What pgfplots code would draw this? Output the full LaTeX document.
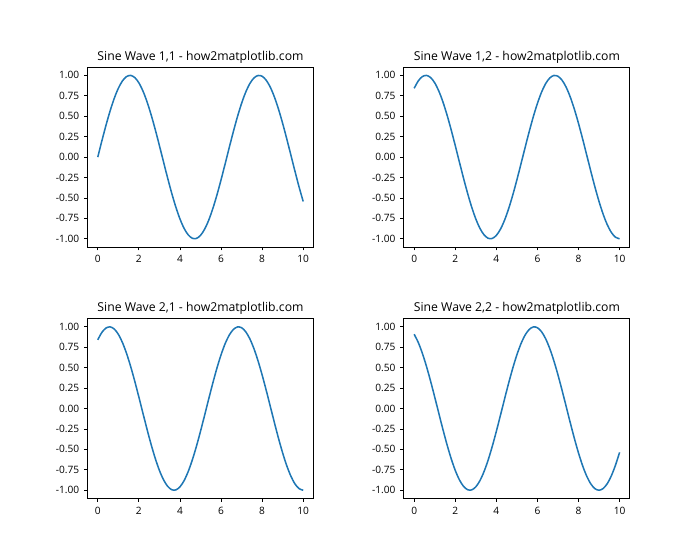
\documentclass[border=0pt]{standalone}
\usepackage{pgfplots}
\pgfplotsset{compat=1.18}
\usepackage{pgfplotstable}
\usepackage{fontspec}
\setmainfont{Open Sans}
\definecolor{mplblue}{HTML}{1F77B4}
\pgfplotstableread{
x s0 s1 s2
0.0 0.0000 0.8415 0.9093
0.2 0.1987 0.9320 0.8085
0.4 0.3894 0.9854 0.6755
0.6 0.5646 0.9996 0.5155
0.8 0.7174 0.9738 0.3350
1.0 0.8415 0.9093 0.1411
1.2 0.9320 0.8085 -0.0584
1.4 0.9854 0.6755 -0.2555
1.6 0.9996 0.5155 -0.4425
1.8 0.9738 0.3350 -0.6119
2.0 0.9093 0.1411 -0.7568
2.2 0.8085 -0.0584 -0.8716
2.4 0.6755 -0.2555 -0.9516
2.6 0.5155 -0.4425 -0.9937
2.8 0.3350 -0.6119 -0.9962
3.0 0.1411 -0.7568 -0.9589
3.2 -0.0584 -0.8716 -0.8835
3.4 -0.2555 -0.9516 -0.7728
3.6 -0.4425 -0.9937 -0.6313
3.8 -0.6119 -0.9962 -0.4646
4.0 -0.7568 -0.9589 -0.2794
4.2 -0.8716 -0.8835 -0.0831
4.4 -0.9516 -0.7728 0.1165
4.6 -0.9937 -0.6313 0.3115
4.8 -0.9962 -0.4646 0.4941
5.0 -0.9589 -0.2794 0.6570
5.2 -0.8835 -0.0831 0.7937
5.4 -0.7728 0.1165 0.8987
5.6 -0.6313 0.3115 0.9679
5.8 -0.4646 0.4941 0.9985
6.0 -0.2794 0.6570 0.9894
6.2 -0.0831 0.7937 0.9407
6.4 0.1165 0.8987 0.8546
6.6 0.3115 0.9679 0.7344
6.8 0.4941 0.9985 0.5849
7.0 0.6570 0.9894 0.4121
7.2 0.7937 0.9407 0.2229
7.4 0.8987 0.8546 0.0248
7.6 0.9679 0.7344 -0.1743
7.8 0.9985 0.5849 -0.3665
8.0 0.9894 0.4121 -0.5440
8.2 0.9407 0.2229 -0.6999
8.4 0.8546 0.0248 -0.8278
8.6 0.7344 -0.1743 -0.9228
8.8 0.5849 -0.3665 -0.9809
9.0 0.4121 -0.5440 -1.0000
9.2 0.2229 -0.6999 -0.9792
9.4 0.0248 -0.8278 -0.9193
9.6 -0.1743 -0.9228 -0.8228
9.8 -0.3665 -0.9809 -0.6935
10.0 -0.5440 -1.0000 -0.5366
}\sinetable
\pgfplotsset{
  mystyle/.style={
    scale only axis, width=162.7pt, height=129.4pt,
    xmin=-0.5, xmax=10.5, ymin=-1.1, ymax=1.1,
    xtick={0,2,4,6,8,10},
    ytick={-1,-0.75,-0.5,-0.25,0,0.25,0.5,0.75,1},
    yticklabel style={/pgf/number format/.cd, fixed, fixed zerofill, precision=2},
    /pgf/number format/assume math mode=true,
    ticklabel style={font=\fontsize{7.3}{8}\selectfont},
    title style={font=\fontsize{8.8}{10}\selectfont, yshift=-6.5pt},
    tick align=outside, tick pos=left,
    major tick length=2.5pt,
    axis line style={line width=0.6pt},
    every tick/.style={black, line width=0.6pt},
    anchor=south west,
  },
  myline/.style={mplblue, line width=1.1pt, smooth, no marks, tension=0.5},
}
\begin{document}
\begin{tikzpicture}[x=1pt,y=1pt]
\useasboundingbox (0,0) rectangle (504,403.2);
\begin{axis}[mystyle, at={(63pt,225.4pt)}, title={Sine Wave 1,1 - how2matplotlib.com}]
\addplot[myline] table[x=x,y=s0] {\sinetable};
\end{axis}
\begin{axis}[mystyle, at={(290.8pt,225.4pt)}, title={Sine Wave 1,2 - how2matplotlib.com}]
\addplot[myline] table[x=x,y=s1] {\sinetable};
\end{axis}
\begin{axis}[mystyle, at={(63pt,44.35pt)}, title={Sine Wave 2,1 - how2matplotlib.com}]
\addplot[myline] table[x=x,y=s1] {\sinetable};
\end{axis}
\begin{axis}[mystyle, at={(290.8pt,44.35pt)}, title={Sine Wave 2,2 - how2matplotlib.com}]
\addplot[myline] table[x=x,y=s2] {\sinetable};
\end{axis}
\end{tikzpicture}
\end{document}
